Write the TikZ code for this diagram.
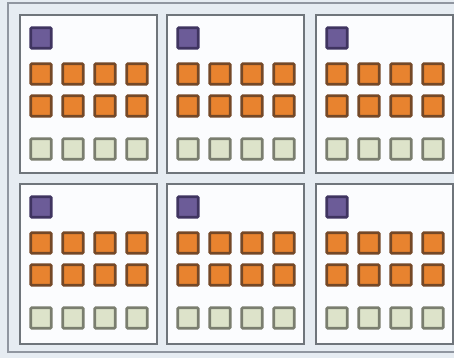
\documentclass[tikz,border=0pt]{standalone}
\usetikzlibrary{calc}
\begin{document}
\begin{tikzpicture}[x=1pt,y=-1pt,
  panel/.style={draw=panelgray,line width=2.2pt,fill=panelfill,inner sep=0pt},
  sq/.style={minimum size=20.5pt,inner sep=0pt,line width=2.6pt,rounded corners=1pt},
  purp/.style={sq,draw=purpdark,fill=purpfill},
  orng/.style={sq,draw=orngdark,fill=orngfill},
  pale/.style={sq,draw=paledark,fill=palefill}]
\definecolor{bgc}{HTML}{E6ECF2}
\definecolor{outer}{HTML}{9096A0}
\definecolor{panelgray}{HTML}{6F757B}
\definecolor{panelfill}{HTML}{FBFCFE}
\definecolor{purpdark}{HTML}{3F3460}
\definecolor{purpfill}{HTML}{6C5C98}
\definecolor{orngdark}{HTML}{744827}
\definecolor{orngfill}{HTML}{E8832F}
\definecolor{paledark}{HTML}{7A7E6F}
\definecolor{palefill}{HTML}{DDE3CA}
\useasboundingbox (0,0) rectangle (454,358);
\fill[bgc] (0,0) rectangle (454,358);
\draw[outer,line width=2.5pt] (8,3) rectangle (460,352);
\foreach \c/\px in {1/19,2/166,3/315}{
  \foreach \r/\py in {1/14,2/183}{
    \pgfmathsetmacro{\ph}{\r==1?158:160}
    \node[panel,minimum width=137pt,minimum height=\ph pt,anchor=north west] (p\r\c) at (\px,\py) {};
    \node[purp] (u\r\c) at ($(\px,\py)+(22,24)$) {};
    \foreach \k in {0,1,2,3}{
      \node[orng] (a\r\c\k) at ($(\px,\py)+(22+32*\k,60)$) {};
      \node[orng] (b\r\c\k) at ($(\px,\py)+(22+32*\k,92)$) {};
      \node[pale] (g\r\c\k) at ($(\px,\py)+(22+32*\k,135)$) {};
    }
  }
}
\end{tikzpicture}
\end{document}
